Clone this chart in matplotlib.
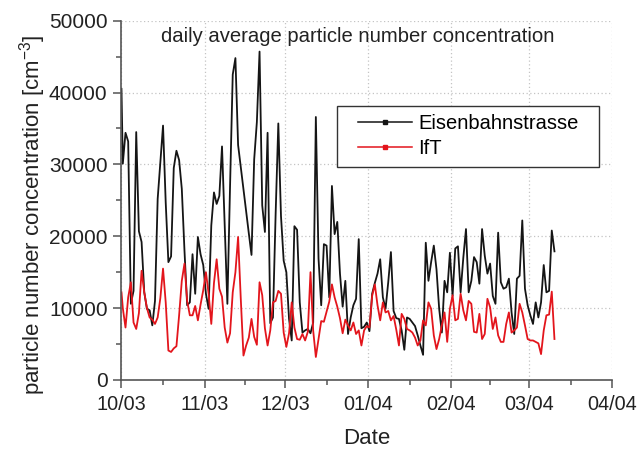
import matplotlib
matplotlib.use('Agg')
import matplotlib.pyplot as plt
import matplotlib.dates as mdates
from matplotlib.patches import Rectangle
import pandas as pd
from matplotlib.ticker import MultipleLocator

plt.rcParams['font.family'] = ['Liberation Sans', 'DejaVu Sans']
plt.rcParams['mathtext.fontset'] = 'custom'
plt.rcParams['mathtext.rm'] = 'Liberation Sans'
plt.rcParams['mathtext.it'] = 'Liberation Sans:italic'

series_names = ['Eisenbahnstrasse', 'IfT']
title_text = 'daily average particle number concentration'

eisen = [40500,
         30100, 34400, 33200, 10600, 12400, 34500, 20700, 19200, 12200, 9900,
         9700, 7600, 11000, 25200, 30300, 35400, 24700, 16400, 17200, 29500,
         31900, 30600, 26600, 18000, 10400, 10800, 17500, 12000, 19900, 17500,
         16000, 12000, 9900, 21500, 26100, 24500, 25600, 32500, 21500, 10600,
         27000, 42500, 44800, 32700, 29600, 26500, 23500, 20400, 17400, 30700,
         35900, 45700, 24300, 20600, 34400, 7900, 8700, 23100, 35700, 22800,
         16600, 15000, 8500, 5500, 21400, 20900, 10800, 6600, 6900, 7100,
         6500, 8000, 36600, 16900, 10400, 18900, 18700, 11500, 27000, 20300,
         22000, 14800, 10200, 13800, 6400, 8700, 10400, 11300, 19600, 7200,
         7400, 8000, 6800, 12000, 13500, 14800, 16800, 11500, 9900, 13600,
         17800, 9600, 8600, 8500, 6900, 4200, 8700, 8500, 8000, 7500,
         6200, 4800, 3500, 19100, 13800, 16400, 18700, 15400, 9900, 6600,
         13800, 12200, 17700, 11700, 18300, 18600, 12200, 17000, 21000, 12200,
         13800, 17100, 16400, 13400, 21000, 17300, 14800, 16200, 11700, 10600,
         20500, 13600, 12700, 12900, 14100, 9400, 6400, 14100, 14500, 22200,
         12700, 10400, 9000, 7800, 10800, 8700, 10800, 16000, 12200, 12400,
         20800, 17900]

ift = [12200,
       10000, 7300, 11500, 13600, 8000, 7100, 9300, 15200, 12200, 10000,
       8700, 8400, 7800, 8700, 11400, 15500, 10800, 4100, 3900, 4400,
       4700, 9000, 13800, 16200, 11000, 9000, 9000, 10300, 8300, 10500,
       12500, 15000, 12000, 7800, 13500, 16800, 12700, 11600, 7300, 5200,
       6500, 12200, 15000, 19900, 11300, 3400, 4800, 5900, 8500, 6000,
       4900, 13600, 11800, 7200, 4800, 6900, 10800, 11000, 12400, 12000,
       6600, 4600, 6500, 10800, 7300, 5700, 5600, 6400, 5500, 6700,
       15000, 6900, 3200, 5700, 8200, 8100, 9500, 10900, 13300, 11500,
       10200, 8600, 6500, 8400, 7600, 6900, 8000, 6400, 6900, 4800,
       6900, 7500, 7300, 11700, 13300, 10400, 8300, 10800, 9400, 9600,
       8300, 8900, 7000, 4800, 9200, 8500, 7100, 6900, 6600, 5900,
       4800, 5500, 8300, 7600, 10800, 9900, 6200, 4300, 5700, 7600,
       9400, 5300, 9900, 11800, 8300, 8500, 12000, 9700, 8300, 11000,
       10600, 6700, 6600, 9200, 5700, 6400, 11300, 10100, 7100, 8700,
       6200, 5300, 5300, 7800, 9400, 6600, 6900, 7300, 10600, 9400,
       7600, 5700, 5500, 5500, 5300, 5100, 3600, 6900, 9000, 9100,
       12300, 5700]

tick_labels = ['10/03', '11/03', '12/03', '01/04', '02/04', '03/04', '04/04']

times = ([pd.Timestamp('2003-10-01 00:00')] +
         list(pd.date_range('2003-10-01 12:00', periods=len(eisen) - 1, freq='D')))
tnum = mdates.date2num([t.to_pydatetime() for t in times])
month_ticks = mdates.date2num(pd.date_range('2003-10-01', '2004-04-01', freq='MS').to_pydatetime())
minor_ticks = (month_ticks[:-1] + month_ticks[1:]) / 2

fig = plt.figure(figsize=(6.37, 4.5), dpi=100)
ax = fig.add_axes([0.1907, 0.1556, 0.7702, 0.7984])

ax.plot(tnum, eisen, color='#151515', lw=1.3, label=series_names[0], zorder=2)
ax.plot(tnum, ift, color='#e3151c', lw=1.3, label=series_names[1], zorder=2)

ax.set_xlim(month_ticks[0], month_ticks[-1])
ax.set_ylim(0, 50000)
ax.set_xticks(month_ticks)
ax.set_xticklabels(tick_labels)
ax.set_xticks(minor_ticks, minor=True)
ax.yaxis.set_major_locator(MultipleLocator(10000))
ax.yaxis.set_minor_locator(MultipleLocator(5000))

ax.grid(True, which='major', linestyle=(0, (1, 2)), color='#c4c4c4', lw=0.9)
ax.set_axisbelow(True)
for s in ['top', 'right']:
    ax.spines[s].set_visible(False)
for s in ['left', 'bottom']:
    ax.spines[s].set_color('#555555')
    ax.spines[s].set_linewidth(1.2)

ax.tick_params(which='major', direction='out', length=6, width=1.1, colors='#555555',
               labelcolor='#222222', pad=4)
ax.tick_params(axis='y', which='major', labelsize=15)
ax.tick_params(axis='x', which='major', labelsize=14.3, pad=5)
ax.tick_params(which='minor', direction='out', length=3.5, width=1.1, colors='#555555')

ax.set_xlabel('Date', fontsize=16, color='#222222', labelpad=10)
ax.set_ylabel('particle number concentration [cm$^{-3}$]', fontsize=16, color='#222222')
ax.yaxis.set_label_coords(-0.15, 0.46)

ax.text(0.482, 0.957, title_text, transform=ax.transAxes, ha='center', va='center',
        fontsize=14.6, color='#222222')

# legend box
bx0, bx1, by0, by1 = 0.440, 0.974, 0.5937, 0.7626
ax.add_patch(Rectangle((bx0, by0), bx1 - bx0, by1 - by0, transform=ax.transAxes,
                       facecolor='white', edgecolor='#333333', lw=1.0, zorder=4))
leg = ax.legend(loc='center', bbox_to_anchor=((bx0 + bx1) / 2, (by0 + by1) / 2),
                borderaxespad=0, borderpad=0, fontsize=14.5, frameon=False,
                handlelength=2.7, handletextpad=0.32, labelspacing=0.3, numpoints=1)
leg.set_zorder(5)
for ln in leg.get_lines():
    ln.set_marker('s')
    ln.set_markersize(2.2)
    ln.set_linewidth(1.1)

fig.savefig('out.png', dpi=100)
